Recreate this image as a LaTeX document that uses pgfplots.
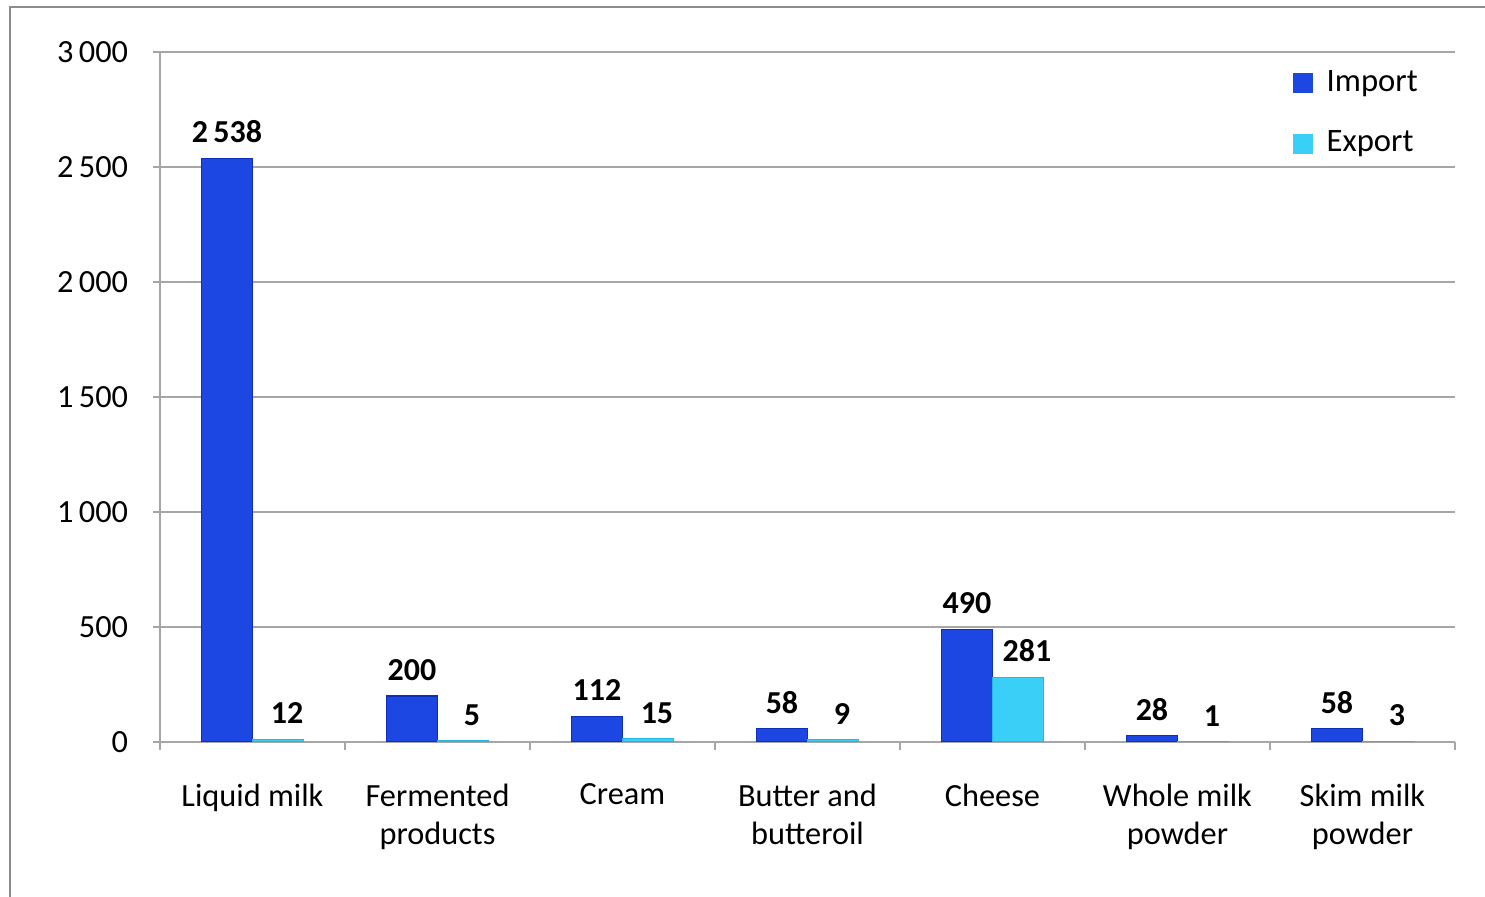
\documentclass[border=0pt]{standalone}
\usepackage{fontspec}
\setmainfont{Carlito}
\usepackage{pgfplots}
\pgfplotsset{compat=1.18}
\definecolor{impF}{HTML}{1C47E2}
\definecolor{impD}{HTML}{0E30B8}
\definecolor{expF}{HTML}{3ACFF6}
\definecolor{expD}{HTML}{26B8E2}
\definecolor{gridc}{HTML}{A6A6A6}
\definecolor{framec}{HTML}{8C8C8C}
\begin{document}
\begin{tikzpicture}
\useasboundingbox (0,0) rectangle (14.85cm,8.97cm);
\draw[framec, line width=0.25mm] (0.1cm,-0.2cm) -- (0.1cm,8.9cm) -- (15cm,8.9cm);
\begin{axis}[
  at={(1.6cm,1.55cm)}, anchor=south west,
  scale only axis, width=12.95cm, height=6.9cm,
  ybar=0pt, bar width=0.51cm,
  xmin=-0.5, xmax=6.5, ymin=0, ymax=3000,
  xtick={0,...,6},
  xticklabels={Liquid milk,{Fermented\\products},Cream,{Butter and\\butteroil},Cheese,{Whole milk\\powder},{Skim milk\\powder}},
  xticklabel style={align=center, font=\fontsize{9.2}{10.8}\selectfont, yshift=-2.3mm},
  minor xtick={-0.5,0.5,...,6.5},
  major x tick style={draw=none},
  tick align=outside,
  major tick length=0.65mm, minor tick length=0.8mm,
  ytick={0,500,...,3000},
  ymajorgrids, grid style={gridc, line width=0.7pt},
  axis x line*=bottom, axis y line*=left,
  axis line style={gridc, line width=0.7pt},
  every tick/.style={gridc, line width=0.7pt},
  yticklabel style={font=\fontsize{9.2}{10}\selectfont, xshift=-1.3mm},
  /pgf/number format/assume math mode=true,
  /pgf/number format/1000 sep={\,},
  nodes near coords,
  every node near coord/.append style={font=\bfseries\fontsize{9.1}{10}\selectfont, text=black, yshift=0.3mm},
  legend style={draw=none, fill=none, at={(0.866,0.995)}, anchor=north west,
    font=\fontsize{9.3}{10}\selectfont, row sep=2.0mm,
    nodes={inner xsep=1.4mm}},
  legend cell align=left,
  legend image code/.code={\path[#1,draw=none] (0cm,-0.1cm) rectangle (0.2cm,0.1cm);},
]
\addplot[draw=impD, line width=0.3pt, fill=impF]
  coordinates {(0,2538) (1,200) (2,112) (3,58) (4,490) (5,28) (6,58)};
\addplot[draw=expD, line width=0.3pt, fill=expF,
  every node near coord/.append style={xshift=0.9mm}]
  coordinates {(0,12) (1,5) (2,15) (3,9) (4,281) (5,1) (6,3)};
\legend{Import,Export}
\end{axis}
\end{tikzpicture}
\end{document}
